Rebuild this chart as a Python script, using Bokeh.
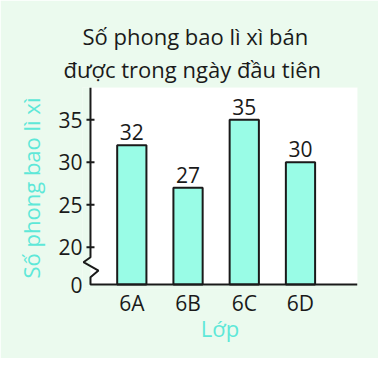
from bokeh.plotting import figure
from bokeh.models import Range1d, FixedTicker, Title
from bokeh.core.properties import value
from bokeh.embed import file_html
from bokeh.resources import INLINE

# ---- data ----
classes = ["6A", "6B", "6C", "6D"]
counts = [32, 27, 35, 30]
y_ticks = [20, 25, 30, 35]
zero_label = "0"
title_lines = ["Số phong bao lì xì bán", "được trong ngày đầu tiên"]
y_label = "Số phong bao lì xì"
x_label = "Lớp"

# ---- style ----
FONT = "Open Sans"
BG = "#ebfaee"
BAR = "#99fce6"
CYAN = "#5ee8d8"
INK = "#1a1a1a"

# scale helpers (pixels per data unit) used for decorations
PX_X = 56.2
PX_Y = 8.49
Y_ZERO = 15.6      # data level where the broken axis shows "0"
X_AXIS = 0.265     # data x of the vertical axis
X_START, X_END = 0.123, 5.014
Y_START, Y_END = 15.13, 38.8

W, H = 378, 358
x_pos = [i + 1 for i in range(len(classes))]

p = figure(width=W, height=H,
           x_range=Range1d(X_START, X_END), y_range=Range1d(Y_START, Y_END),
           output_backend="svg", toolbar_location=None,
           min_border_left=82, min_border_right=W - 357,
           min_border_top=87, min_border_bottom=H - 288,
           background_fill_color=BG, border_fill_color=BG,
           outline_line_color=None)
p.grid.visible = False

# title (two lines)
def style_title(t, standoff, offset):
    t.align = "left"
    t.offset = offset
    t.text_font = FONT
    t.text_font_size = "22px"
    t.text_font_style = "normal"
    t.text_color = INK
    t.standoff = standoff

p.title.text = title_lines[0]
style_title(p.title, -6, 0)
t2 = Title(text=title_lines[1])
style_title(t2, 8, -19)
p.add_layout(t2, "above")

# white plotting area
p.quad(left=[X_AXIS], right=[X_END], bottom=[Y_ZERO], top=[Y_END],
       fill_color="white", line_color=None)

# bars
p.vbar(x=x_pos, top=counts, bottom=Y_ZERO, width=0.52,
       fill_color=BAR, line_color=INK, line_width=2)

# value labels
p.text(x=x_pos, y=counts, text=[str(c) for c in counts],
       text_align="center", text_baseline="alphabetic", y_offset=-13,
       text_font=value(FONT), text_font_size="21px", text_color=INK)

# axis line with break (zigzag) in pixel offsets from the corner
zig = [(0, 27.3), (-7, 22.3), (8, 14), (0, 7.3), (0, 0)]
ax_x = [X_AXIS] + [X_AXIS + dx / PX_X for dx, dy in zig] + [X_END]
ax_y = [Y_END] + [Y_ZERO + dy / PX_Y for dx, dy in zig] + [Y_ZERO]
p.line(ax_x, ax_y, line_color=INK, line_width=2)

# tick marks crossing the axis
half = 4 / PX_X
p.segment(x0=[X_AXIS - half] * len(y_ticks), x1=[X_AXIS + half] * len(y_ticks),
          y0=y_ticks, y1=y_ticks, line_color=INK, line_width=2)

# y axis (labels only)
ya = p.yaxis[0]
ya.ticker = FixedTicker(ticks=[Y_ZERO] + y_ticks)
ya.major_label_overrides = {Y_ZERO: zero_label}
ya.axis_line_color = None
ya.major_tick_line_color = None
ya.minor_tick_line_color = None
ya.major_tick_out = 0
ya.major_tick_in = 0
ya.minor_tick_out = 0
ya.major_label_standoff = 0
ya.major_label_text_font = FONT
ya.major_label_text_font_size = "21px"
ya.major_label_text_color = INK
ya.axis_label = y_label
ya.axis_label_text_font = FONT
ya.axis_label_text_font_size = "22px"
ya.axis_label_text_font_style = "normal"
ya.axis_label_text_color = CYAN
ya.axis_label_standoff = 9

# x axis (labels only)
xa = p.xaxis[0]
xa.ticker = FixedTicker(ticks=x_pos)
xa.major_label_overrides = {x: c for x, c in zip(x_pos, classes)}
xa.axis_line_color = None
xa.major_tick_line_color = None
xa.minor_tick_line_color = None
xa.major_tick_out = 0
xa.major_tick_in = 0
xa.minor_tick_out = 0
xa.major_label_standoff = 0
xa.major_label_text_font = FONT
xa.major_label_text_font_size = "21px"
xa.major_label_text_color = INK
xa.axis_label = x_label
xa.axis_label_text_font = FONT
xa.axis_label_text_font_size = "22px"
xa.axis_label_text_font_style = "normal"
xa.axis_label_text_color = CYAN
xa.axis_label_standoff = -7

open("out.html", "w").write(file_html(p, INLINE))
